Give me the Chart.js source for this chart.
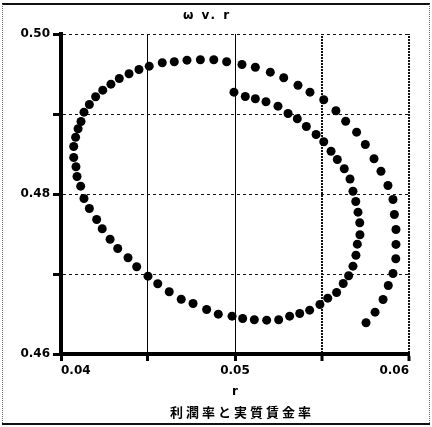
<!DOCTYPE html>
<html>
<head>
<meta charset="utf-8">
<title>ω v. r</title>
<script src="https://cdn.jsdelivr.net/npm/chart.js@4/dist/chart.umd.min.js"></script>
<style>
  html, body { margin: 0; padding: 0; background: #fff; }
  canvas { display: block; }
</style>
</head>
<body>
<canvas id="chart" width="432" height="427"></canvas>
<script>
// profit rate r (x) and wage share ω (y), one point per period
const rSeries = [
    0.04994, 0.05059, 0.05117, 0.05178, 0.05247, 0.05305, 0.05358, 0.05410, 0.05466, 0.05510,
    0.05552, 0.05588, 0.05628, 0.05661, 0.05678, 0.05694, 0.05707, 0.05717, 0.05718, 0.05703,
    0.05695, 0.05678, 0.05653, 0.05622, 0.05584, 0.05533, 0.05488, 0.05429, 0.05372, 0.05314,
    0.05251, 0.05182, 0.05111, 0.05044, 0.04983, 0.04904, 0.04837, 0.04759, 0.04691, 0.04622,
    0.04556, 0.04500, 0.04435, 0.04385, 0.04326, 0.04282, 0.04237, 0.04205, 0.04163, 0.04132,
    0.04113, 0.04092, 0.04086, 0.04073, 0.04073, 0.04084, 0.04098, 0.04115, 0.04132, 0.04163,
    0.04199, 0.04240, 0.04287, 0.04335, 0.04391, 0.04448, 0.04507, 0.04582, 0.04651, 0.04724,
    0.04801, 0.04878, 0.04952, 0.05040, 0.05117, 0.05203, 0.05280, 0.05362, 0.05431, 0.05510,
    0.05580, 0.05636, 0.05699, 0.05749, 0.05799, 0.05839, 0.05879, 0.05908, 0.05916, 0.05925,
    0.05925, 0.05924, 0.05908, 0.05881, 0.05851, 0.05805, 0.05753
];
const omegaSeries = [
    0.49273, 0.49219, 0.49190, 0.49153, 0.49098, 0.49006, 0.48940, 0.48844, 0.48744, 0.48653,
    0.48535, 0.48431, 0.48315, 0.48188, 0.48035, 0.47906, 0.47773, 0.47640, 0.47490, 0.47373,
    0.47235, 0.47098, 0.46978, 0.46881, 0.46769, 0.46698, 0.46619, 0.46548, 0.46506, 0.46473,
    0.46428, 0.46423, 0.46428, 0.46444, 0.46473, 0.46498, 0.46556, 0.46631, 0.46685, 0.46778,
    0.46878, 0.46973, 0.47090, 0.47203, 0.47319, 0.47435, 0.47565, 0.47681, 0.47819, 0.47944,
    0.48098, 0.48219, 0.48340, 0.48456, 0.48594, 0.48710, 0.48815, 0.48906, 0.49023, 0.49119,
    0.49215, 0.49298, 0.49373, 0.49444, 0.49503, 0.49556, 0.49598, 0.49640, 0.49653, 0.49673,
    0.49678, 0.49678, 0.49653, 0.49619, 0.49585, 0.49523, 0.49453, 0.49360, 0.49273, 0.49178,
    0.49040, 0.48910, 0.48773, 0.48619, 0.48440, 0.48285, 0.48106, 0.47931, 0.47744, 0.47556,
    0.47370, 0.47190, 0.47006, 0.46856, 0.46681, 0.46523, 0.46390
];

const xTickLabels = ['0.04', '0.05', '0.06'];
const yTickLabels = ['0.46', '0.48', '0.50'];

const chartTitle = 'ω v. r';
const xAxisTitle = 'r';
const caption = '利潤率と実質賃金率';

const canvas = document.getElementById('chart');
const ctx = canvas.getContext('2d');

// dense dotted stroke for the right-hand vertical grid lines
const dotTile = document.createElement('canvas');
dotTile.width = 1;
dotTile.height = 3;
const dotCtx = dotTile.getContext('2d');
dotCtx.fillStyle = '#111';
dotCtx.fillRect(0, 0, 1, 2);
const dottedStroke = ctx.createPattern(dotTile, 'repeat');

function pickLabel(value, labels) {
    const s = value.toFixed(2);
    if (Math.abs(value - parseFloat(s)) < 1e-6 && labels.includes(s)) return s;
    return '';
}

// frame round the figure plus title, axis name and caption
const textAndFrame = {
    id: 'textAndFrame',
    afterDraw(chart) {
        const c = chart.ctx;
        c.save();
        c.fillStyle = '#111';
        c.fillRect(2, 3, 428, 2);
        c.fillRect(2, 423, 428, 2);
        c.strokeStyle = '#666';
        c.lineWidth = 1;
        c.setLineDash([1, 1]);
        c.beginPath();
        c.moveTo(2.5, 4); c.lineTo(2.5, 424);
        c.moveTo(429.5, 4); c.lineTo(429.5, 424);
        c.stroke();
        c.setLineDash([]);

        c.fillStyle = '#000';
        c.textAlign = 'center';
        c.textBaseline = 'middle';
        c.font = 'bold 12px "DejaVu Sans"';
        c.letterSpacing = '2px';
        c.fillText(chartTitle, 207, 16);
        c.letterSpacing = '0px';
        c.fillText(xAxisTitle, 235, 392);
        c.font = 'bold 13px "Noto Sans CJK JP"';
        c.letterSpacing = '3px';
        c.fillText(caption, 242, 412);
        c.restore();
    }
};

Chart.defaults.font.family = '"DejaVu Sans"';
Chart.defaults.font.size = 12;
Chart.defaults.font.weight = 'bold';
Chart.defaults.color = '#000';

new Chart(ctx, {
    type: 'scatter',
    data: {
        datasets: [{
            label: 'ω v. r',
            data: rSeries.map((r, i) => ({ x: r, y: omegaSeries[i] })),
            backgroundColor: '#000',
            borderWidth: 0,
            pointRadius: 4.5,
            pointHoverRadius: 4.5
        }]
    },
    options: {
        responsive: false,
        animation: false,
        layout: { padding: { left: 0, top: 34, right: 23, bottom: 0 } },
        plugins: {
            legend: { display: false },
            tooltip: { enabled: false }
        },
        scales: {
            x: {
                type: 'linear',
                min: 0.04,
                max: 0.06,
                afterFit(scale) { scale.height = 73; },
                ticks: {
                    stepSize: 0.005,
                    autoSkip: false,
                    maxRotation: 0,
                    align: 'inner',
                    padding: 3,
                    callback: v => pickLabel(v, xTickLabels)
                },
                grid: {
                    color: c => c.index >= 3 ? dottedStroke : '#000',
                    lineWidth: c => c.index >= 3 ? 2 : 1,
                    tickLength: 7,
                    tickWidth: 3,
                    tickColor: '#000'
                },
                border: { color: '#000', width: 4 }
            },
            y: {
                type: 'linear',
                min: 0.46,
                max: 0.50,
                afterFit(scale) { scale.width = 61; },
                ticks: {
                    stepSize: 0.01,
                    autoSkip: false,
                    padding: 3,
                    callback: v => pickLabel(v, yTickLabels)
                },
                grid: {
                    color: '#111',
                    lineWidth: 1,
                    tickLength: 8,
                    tickWidth: 3,
                    tickColor: '#000'
                },
                border: { color: '#000', width: 4, dash: [3, 3] }
            }
        }
    },
    plugins: [textAndFrame]
});
</script>
</body>
</html>
